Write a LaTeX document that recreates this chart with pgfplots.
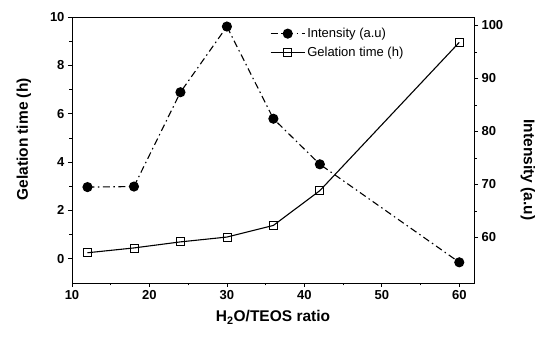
\documentclass[border=0pt]{standalone}
\usepackage{pgfplots}
\pgfplotsset{compat=1.18}
\usepackage{fontspec}
\setmainfont{Liberation Sans}
\begin{document}
\begin{tikzpicture}
\path[use as bounding box] (-72pt,-59pt) rectangle (467pt,283pt);
\pgfplotsset{
  every axis/.append style={
    scale only axis, width=402pt, height=266pt,
    xmin=10, xmax=61.9,
    /pgf/number format/assume math mode=true,
    ticklabel style={font=\bfseries\fontsize{13}{13}\selectfont},
    major tick length=4pt, minor tick length=2.5pt,
    every tick/.style={black, line width=0.8pt},
    axis line style={line width=0.9pt},
  },
  intstyle/.style={black, line width=1.1pt, dash pattern=on 7pt off 3.5pt on 1.5pt off 3.5pt, mark=*, mark size=4.5pt, mark options={solid, fill=black}},
  gelstyle/.style={black, line width=1.1pt, mark=square, mark size=4pt, mark options={solid, fill=white, line width=0.8pt}},
}
\begin{axis}[
  at={(0,0)}, anchor=south west,
  ymin=-1, ymax=10,
  xtick={10,20,30,40,50,60}, minor x tick num=1,
  ytick={0,2,4,6,8,10}, minor y tick num=1,
  xtick pos=bottom, ytick pos=left,
  tick align=outside,
  xlabel={H\textsubscript{2}O/TEOS ratio},
  ylabel={Gelation time (h)},
  xlabel style={font=\bfseries\fontsize{15.5}{16}\selectfont, at={(axis description cs:0.5,-0.13)}, anchor=center},
  ylabel style={font=\bfseries\fontsize{15.5}{16}\selectfont, at={(axis description cs:-0.12,0.54)}, anchor=center, rotate=0},
  legend style={draw=none, fill=none, at={(0.49,0.97)}, anchor=north west, font=\fontsize{13}{13}\selectfont, row sep=4pt, inner sep=1pt},
  legend cell align=left,
  legend image code/.code={\draw[mark repeat=2,mark phase=2,#1] plot coordinates {(0pt,0pt) (17pt,0pt) (34pt,0pt)};},
]
\addlegendimage{intstyle}
\addlegendentry{Intensity (a.u)}
\addplot[gelstyle] coordinates {(12,0.25) (18,0.45) (24,0.7) (30,0.9) (36,1.38) (42,2.82) (60,8.95)};
\addlegendentry{Gelation time (h)}
\end{axis}
\begin{axis}[
  at={(0,0)}, anchor=south west,
  ymin=51.4, ymax=101.6,
  axis x line=none, axis y line*=right,
  ytick={60,70,80,90,100}, minor y tick num=1,
  tick align=outside,
  ylabel={Intensity (a.u)},
  ylabel style={font=\bfseries\fontsize{15.5}{16}\selectfont, at={(axis description cs:1.134,0.425)}, anchor=center, rotate=180},
]
\addplot[intstyle] coordinates {(12,69.5) (18,69.6) (24,87.4) (30,99.8) (36,82.4) (42,73.8) (60,55.3)};
\end{axis}
\end{tikzpicture}
\end{document}
